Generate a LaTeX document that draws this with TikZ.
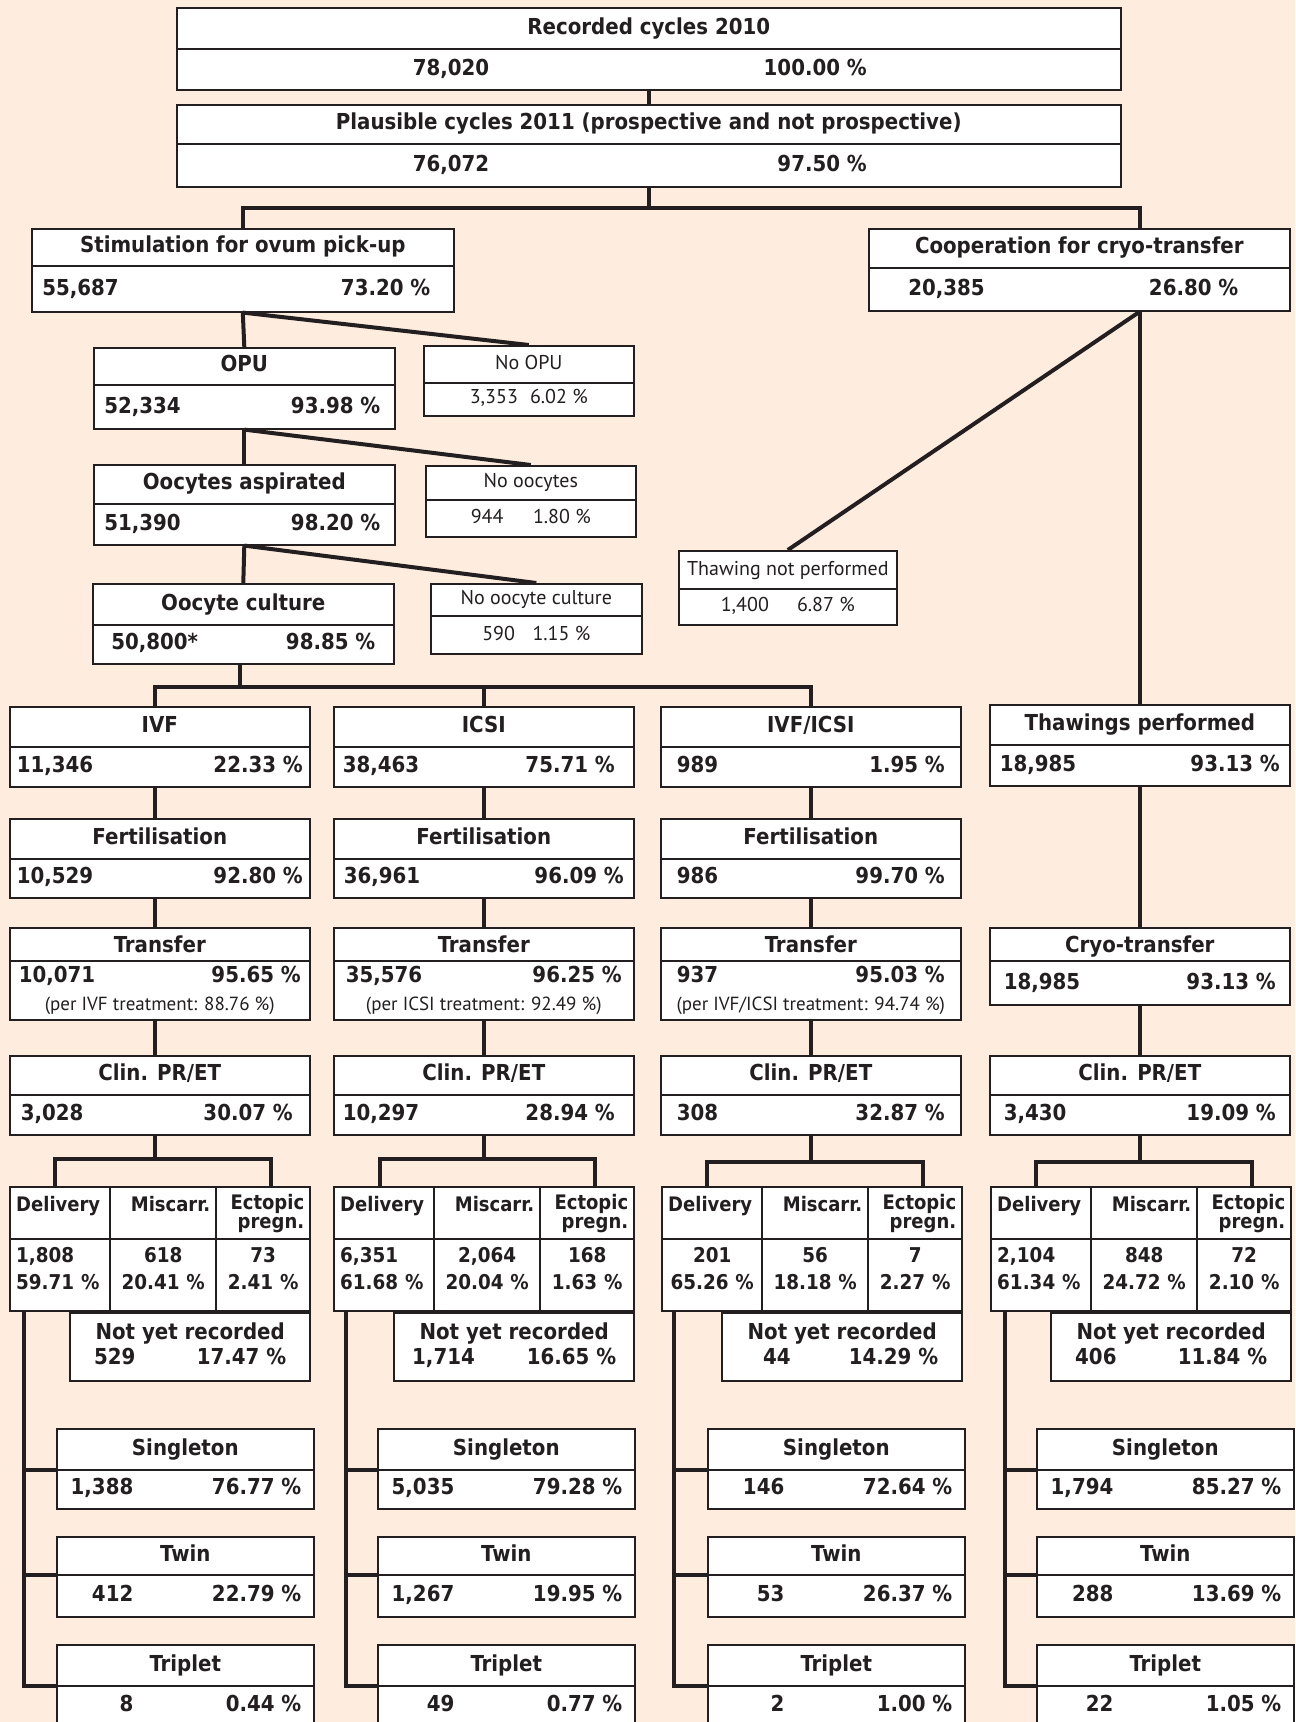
\documentclass[tikz,border=0pt]{standalone}
\usepackage{fontspec}
\setmainfont{DejaVu Sans Condensed}[BoldFont={DejaVu Sans Condensed Bold}]
\newfontfamily\thinf{PT Sans}
\usetikzlibrary{shapes.multipart,matrix}
\definecolor{peach}{RGB}{254,237,223}
\definecolor{ink}{RGB}{35,31,32}
% fixed height for one row of a box
\newcommand{\rowh}[1][20pt]{\rule[-0.335\dimexpr#1\relax]{0pt}{\dimexpr#1-0.8pt\relax}}
% number on the left, percentage on the right
\newcommand{\valrow}[3][138pt]{\makebox[#1]{#2\hfill #3}}
% number set flush right in a narrow slot
\newcommand{\rnum}[1]{\makebox[32pt][r]{#1}}
% empty last line that lifts the text of a cell
\newcommand{\cellpad}[1][-6pt]{\\[#1]\mbox{}}

\begin{document}
\begin{tikzpicture}[x=0.5pt, y=-0.5pt,
    box/.style={rectangle split, rectangle split parts=2, draw=ink, line width=0.8pt,
                fill=white, text=ink, inner xsep=0pt, inner ysep=0pt, anchor=north west,
                font=\bfseries\fontsize{11}{13}\selectfont},
    side/.style={box, font=\thinf\fontsize{10}{12}\selectfont},
    col/.style={box, minimum width=150pt},
    birth/.style={box, minimum width=128.5pt},
    cell/.style={draw=ink, line width=0.8pt, fill=white, text=ink, inner xsep=3pt,
                 inner ysep=0pt, font=\bfseries\fontsize{10}{12}\selectfont},
    hr/.style={align=right},
    outcome/.style={anchor=north west, inner sep=0pt, column sep=-0.8pt, row sep=-0.8pt,
                    nodes={cell},
                    column 1/.style={nodes={text width=44pt, align=left}},
                    column 2/.style={nodes={text width=47pt, align=center}},
                    column 3/.style={nodes={text width=41pt, align=center}},
                    row 1/.style={nodes={minimum height=26pt}},
                    row 2/.style={nodes={minimum height=36pt,
                                         font=\bfseries\fontsize{10.2}{13}\selectfont}}},
    nyr/.style={draw=ink, line width=0.8pt, fill=white, text=ink, align=center,
                minimum width=120pt, minimum height=34pt, inner sep=0pt,
                anchor=north east, font=\bfseries\fontsize{11}{13}\selectfont},
    link/.style={draw=ink, line width=2pt},
  ]
    \useasboundingbox (0,0) rectangle (1295,1722);
    \fill[peach] (0,0) rectangle (1295,1722);
    \clip (0,0) rectangle (1295,1722);

    % Top rows ---------------------------------------------------------------
    \node[box, minimum width=472pt] (rec) at (176,7)
      {\rowh[20.5pt]Recorded cycles 2010\nodepart{two}\rowh[20.5pt]\valrow[227pt]{78,020}{100.00 \%}\hspace*{9pt}};
    \node[box, minimum width=472pt] (plaus) at (176,104)
      {\rowh[19.5pt]Plausible cycles 2011 (prospective and not prospective)\nodepart{two}\rowh[21.5pt]\valrow[227pt]{76,072}{97.50 \%}\hspace*{9pt}};

    % Stimulation branch -----------------------------------------------------
    \node[box, minimum width=211pt] (stim) at (31,228)
      {\rowh[18.5pt]Stimulation for ovum pick-up\nodepart{two}\rowh[23pt]\valrow[194pt]{55,687}{73.20 \%}\hspace*{6.5pt}};
    \node[box, minimum width=150.5pt] (opu) at (93,347)
      {\rowh[18.5pt]OPU\nodepart{two}\rowh[22pt]\valrow{52,334}{93.98 \%}\hspace*{2pt}};
    \node[side, minimum width=105pt] (noopu) at (423,345)
      {\rowh[18.5pt]No OPU\nodepart{two}\rowh[16.5pt]\valrow[59pt]{3,353}{6.02 \%}};
    \node[box, minimum width=150.5pt] (ooc) at (93,464)
      {\rowh[19.5pt]Oocytes aspirated\nodepart{two}\rowh[20.5pt]\valrow{51,390}{98.20 \%}\hspace*{2pt}};
    \node[side, minimum width=105pt] (nooc) at (425,465)
      {\rowh[17pt]No oocytes\nodepart{two}\rowh[18.5pt]\valrow[60pt]{944}{1.80 \%}};
    \node[box, minimum width=150.5pt] (cult) at (92,583)
      {\rowh[20.5pt]Oocyte culture\nodepart{two}\rowh[19.5pt]\valrow[132pt]{50,800*}{98.85 \%}};
    \node[side, minimum width=105.5pt] (nocult) at (430,583)
      {\rowh[16pt]No oocyte culture\nodepart{two}\rowh[19pt]\valrow[54pt]{590}{1.15 \%}};

    % Cryo branch ------------------------------------------------------------
    \node[box, minimum width=210.5pt] (coop) at (868,228)
      {\rowh[19.5pt]Cooperation for cryo-transfer\nodepart{two}\rowh[21.5pt]\valrow[165pt]{20,385}{26.80 \%}\hspace*{6pt}};
    \node[side, minimum width=109pt] (thawno) at (678,550)
      {\rowh[19pt]Thawing not performed\nodepart{two}\rowh[18pt]\valrow[67pt]{1,400}{6.87 \%}};

    % IVF column -------------------------------------------------------------
    \node[col] (ivf) at (9,706) {\rowh IVF\nodepart{two}\rowh\valrow[143pt]{11,346}{22.33 \%}};
    \node[col] (fertivf) at (9,818) {\rowh Fertilisation\nodepart{two}\rowh[19.5pt]\valrow[143pt]{10,529}{92.80 \%}};
    \node[col] (trivf) at (9,927) {\rowh[16.5pt]\raisebox{-1.6pt}{Transfer}\nodepart{two}\parbox[c][28.7pt][c]{146pt}{\centering
      \valrow[141pt]{10,071}{95.65 \%}\\[1pt]{\thinf\mdseries\fontsize{9.5}{11}\selectfont (per IVF treatment: 88.76 \%)}}};
    \node[col] (clinivf) at (9,1055) {\rowh[19.5pt]Clin. PR/ET\nodepart{two}\rowh\valrow[136pt]{3,028}{30.07 \%}\hspace*{3pt}};
    \matrix[outcome] (tivf) at (9,1186) {
      \node (ivfdel) {Delivery\\[-2.5pt]\mbox{}}; & \node[hr] {Miscarr.\\[-2.5pt]\mbox{}}; & \node[hr] (ivfect) {Ectopic\\[-2.5pt]pregn.}; \\
      \node (ivfdn) {1,808\\[0.5pt]59.71 \%\cellpad}; & \node {618\\[0.5pt]20.41 \%\cellpad}; & \node (ivfen) {73\\[0.5pt]2.41 \%\cellpad}; \\
    };
    \node[nyr] (ivfnyr) at (ivfen.south east) {Not yet recorded\\[-0.5pt]\valrow[96pt]{529}{17.47 \%}\hspace*{2pt}\cellpad[-10pt]};
    \node[birth] (sglivf) at (56,1428) {\rowh[20.5pt]Singleton\nodepart{two}\rowh[19.5pt]\valrow[116pt]{\rnum{1,388}}{76.77 \%}};
    \node[birth] (twnivf) at (56,1536) {\rowh[19pt]Twin\nodepart{two}\rowh[21pt]\valrow[116pt]{\rnum{412}}{22.79 \%}};
    \node[birth] (trpivf) at (56,1644) {\rowh[20.5pt]Triplet\nodepart{two}\rowh\valrow[116pt]{\rnum{8}}{0.44 \%}};

    % ICSI column ------------------------------------------------------------
    \node[col] (icsi) at (333,706) {\rowh ICSI\nodepart{two}\rowh\valrow[136pt]{38,463}{75.71 \%}\hspace*{5pt}};
    \node[col] (ferticsi) at (333,818) {\rowh Fertilisation\nodepart{two}\rowh[19.5pt]\valrow[140pt]{36,961}{96.09 \%}};
    \node[col] (tricsi) at (333,927) {\rowh[16.5pt]\raisebox{-1.6pt}{Transfer}\nodepart{two}\parbox[c][28.7pt][c]{146pt}{\centering
      \valrow[138pt]{35,576}{96.25 \%}\hspace*{3pt}\\[1pt]{\thinf\mdseries\fontsize{9.5}{11}\selectfont (per ICSI treatment: 92.49 \%)}}};
    \node[col] (clinicsi) at (333,1055) {\rowh[19.5pt]Clin. PR/ET\nodepart{two}\rowh\valrow[136pt]{10,297}{28.94 \%}\hspace*{5pt}};
    \matrix[outcome] (ticsi) at (333,1186) {
      \node (icsidel) {Delivery\\[-2.5pt]\mbox{}}; & \node[hr] {Miscarr.\\[-2.5pt]\mbox{}}; & \node[hr] (icsiect) {Ectopic\\[-2.5pt]pregn.}; \\
      \node (icsidn) {6,351\\[0.5pt]61.68 \%\cellpad}; & \node {2,064\\[0.5pt]20.04 \%\cellpad}; & \node (icsien) {168\\[0.5pt]1.63 \%\cellpad}; \\
    };
    \node[nyr] (icsinyr) at (icsien.south east) {Not yet recorded\\[-0.5pt]\valrow[102pt]{1,714}{16.65 \%}\cellpad[-10pt]};
    \node[birth] (sglicsi) at (377,1428) {\rowh[20.5pt]Singleton\nodepart{two}\rowh[19.5pt]\valrow[116pt]{\rnum{5,035}}{79.28 \%}};
    \node[birth] (twnicsi) at (377,1536) {\rowh[19pt]Twin\nodepart{two}\rowh[21pt]\valrow[116pt]{\rnum{1,267}}{19.95 \%}};
    \node[birth] (trpicsi) at (377,1644) {\rowh[20.5pt]Triplet\nodepart{two}\rowh\valrow[116pt]{\rnum{49}}{0.77 \%}};

    % IVF/ICSI column --------------------------------------------------------
    \node[col] (ivfi) at (660,706) {\rowh IVF/ICSI\nodepart{two}\rowh\valrow[134pt]{989}{1.95 \%}};
    \node[col] (fertivfi) at (660,818) {\rowh Fertilisation\nodepart{two}\rowh[19.5pt]\valrow[134pt]{986}{99.70 \%}};
    \node[col] (trivfi) at (660,927) {\rowh[16.5pt]\raisebox{-1.6pt}{Transfer}\nodepart{two}\parbox[c][28.7pt][c]{146pt}{\centering
      \valrow[134pt]{937}{95.03 \%}\\[1pt]{\thinf\mdseries\fontsize{9.5}{11}\selectfont (per IVF/ICSI treatment: 94.74 \%)}}};
    \node[col] (clinivfi) at (660,1055) {\rowh[19.5pt]Clin. PR/ET\nodepart{two}\rowh\valrow[134pt]{308}{32.87 \%}};
    \matrix[outcome] (tivfi) at (661,1186) {
      \node (ivfidel) {Delivery\\[-2.5pt]\mbox{}}; & \node[hr] {Miscarr.\\[-2.5pt]\mbox{}}; & \node[hr] (ivfiect) {Ectopic\\[-2.5pt]pregn.}; \\
      \node[align=center] (ivfidn) {201\\[0.5pt]65.26 \%\cellpad}; & \node {56\\[0.5pt]18.18 \%\cellpad}; & \node (ivfien) {7\\[0.5pt]2.27 \%\cellpad}; \\
    };
    \node[nyr] (ivfinyr) at (ivfien.south east) {Not yet recorded\\[-0.5pt]\valrow[96pt]{\hspace{8.5pt}44}{14.29 \%}\cellpad[-10pt]};
    \node[birth] (sglivfi) at (707,1428) {\rowh[20.5pt]Singleton\nodepart{two}\rowh[19.5pt]\valrow[116pt]{\rnum{146}}{72.64 \%}};
    \node[birth] (twnivfi) at (707,1536) {\rowh[19pt]Twin\nodepart{two}\rowh[21pt]\valrow[116pt]{\rnum{53}}{26.37 \%}};
    \node[birth] (trpivfi) at (707,1644) {\rowh[20.5pt]Triplet\nodepart{two}\rowh\valrow[116pt]{\rnum{2}}{1.00 \%}};

    % Cryo column ------------------------------------------------------------
    \node[col] (thaw) at (989,704) {\rowh Thawings performed\nodepart{two}\rowh[20.5pt]\valrow[140pt]{18,985}{93.13 \%}};
    \node[col] (cryo) at (989,927) {\rowh[16.5pt]\raisebox{-1.6pt}{Cryo-transfer}\nodepart{two}\rowh[22pt]\valrow[136pt]{18,985}{93.13 \%}};
    \node[col] (clincryo) at (989,1055) {\rowh[19.5pt]Clin. PR/ET\nodepart{two}\rowh\valrow[136pt]{3,430}{19.09 \%}};
    \matrix[outcome] (tcryo) at (990,1186) {
      \node (cryodel) {Delivery\\[-2.5pt]\mbox{}}; & \node[hr] {Miscarr.\\[-2.5pt]\mbox{}}; & \node[hr] (cryoect) {Ectopic\\[-2.5pt]pregn.}; \\
      \node (cryodn) {2,104\\[0.5pt]61.34 \%\cellpad}; & \node {848\\[0.5pt]24.72 \%\cellpad}; & \node (cryoen) {72\\[0.5pt]2.10 \%\cellpad}; \\
    };
    \node[nyr] (cryonyr) at (cryoen.south east) {Not yet recorded\\[-0.5pt]\valrow[96pt]{406}{11.84 \%}\hspace*{2pt}\cellpad[-10pt]};
    \node[birth] (sglcryo) at (1036,1428) {\rowh[20.5pt]Singleton\nodepart{two}\rowh[19.5pt]\valrow[116pt]{\rnum{1,794}}{85.27 \%}};
    \node[birth] (twncryo) at (1036,1536) {\rowh[19pt]Twin\nodepart{two}\rowh[21pt]\valrow[116pt]{\rnum{288}}{13.69 \%}};
    \node[birth] (trpcryo) at (1036,1644) {\rowh[20.5pt]Triplet\nodepart{two}\rowh\valrow[116pt]{\rnum{22}}{1.05 \%}};

    % Connectors: top and first split ----------------------------------------
    \draw[link] (rec.south) -- (plaus.north);
    \draw[link] (plaus.south) -- ++(0,20) coordinate (fork);
    \draw[link] (stim.north) |- (fork) -| (thaw.north |- coop.north);
    \draw[link] (stim.south) -- (opu.north);
    \draw[link] (stim.south) -- (noopu.north);
    \draw[link] (opu.south) -- (ooc.north);
    \draw[link] (opu.south) -- (nooc.north);
    \draw[link] (ooc.south) -- (cult.north);
    \draw[link] (ooc.south) -- (nocult.north);
    \draw[link] ([xshift=-1.5pt]cult.south) -- ++(0,22) coordinate (bcult);
    \draw[link] ([xshift=-2.5pt]ivf.north) |- (bcult) -| (ivfi.north);
    \draw[link] (bcult -| icsi.north) -- (icsi.north);
    \draw[link] (thaw.north |- coop.south) -- (thaw.north);
    \draw[link] (thaw.north |- coop.south) -- (thawno.north);

    % Connectors: IVF column -------------------------------------------------
    \draw[link] ([xshift=-2.5pt]ivf.south) -- ([xshift=-2.5pt]fertivf.north);
    \draw[link] ([xshift=-2.5pt]fertivf.south) -- ([xshift=-2.5pt]trivf.north);
    \draw[link] ([xshift=-2.5pt]trivf.south) -- ([xshift=-2.5pt]clinivf.north);
    \draw[link] ([xshift=-2.5pt]clinivf.south) -- ++(0,23) coordinate (bivf);
    \draw[link] ([xshift=-2.5pt]ivfdel.north) |- (bivf) -| ([xshift=4pt]ivfect.north);
    \coordinate (kivf) at ([xshift=7.5pt]ivfdn.south west);
    \draw[link] (kivf) |- (trpivf.text split west);
    \draw[link] (kivf |- sglivf.text split west) -- (sglivf.text split west);
    \draw[link] (kivf |- twnivf.text split west) -- (twnivf.text split west);

    % Connectors: ICSI column ------------------------------------------------
    \draw[link] (icsi.south) -- (ferticsi.north);
    \draw[link] (ferticsi.south) -- (tricsi.north);
    \draw[link] (tricsi.south) -- (clinicsi.north);
    \draw[link] (clinicsi.south) -- ++(0,23) coordinate (bicsi);
    \draw[link] ([xshift=-2pt]icsidel.north) |- (bicsi) -| ([xshift=4pt]icsiect.north);
    \coordinate (kicsi) at ([xshift=6.5pt]icsidn.south west);
    \draw[link] (kicsi) |- (trpicsi.text split west);
    \draw[link] (kicsi |- sglicsi.text split west) -- (sglicsi.text split west);
    \draw[link] (kicsi |- twnicsi.text split west) -- (twnicsi.text split west);

    % Connectors: IVF/ICSI column --------------------------------------------
    \draw[link] (ivfi.south) -- (fertivfi.north);
    \draw[link] (fertivfi.south) -- (trivfi.north);
    \draw[link] (trivfi.south) -- (clinivfi.north);
    \draw[link] (clinivfi.south) -- ++(0,26) coordinate (bivfi);
    \draw[link] ([xshift=-2.5pt]ivfidel.north) |- (bivfi) -| ([xshift=4pt]ivfiect.north);
    \coordinate (kivfi) at ([xshift=6.5pt]ivfidn.south west);
    \draw[link] (kivfi) |- (trpivfi.text split west);
    \draw[link] (kivfi |- sglivfi.text split west) -- (sglivfi.text split west);
    \draw[link] (kivfi |- twnivfi.text split west) -- (twnivfi.text split west);

    % Connectors: cryo column ------------------------------------------------
    \draw[link] (thaw.south) -- (cryo.north);
    \draw[link] (cryo.south) -- (clincryo.north);
    \draw[link] (clincryo.south) -- ++(0,26) coordinate (bcryo);
    \draw[link] ([xshift=-2.5pt]cryodel.north) |- (bcryo) -| ([xshift=4pt]cryoect.north);
    \coordinate (kcryo) at ([xshift=7.5pt]cryodn.south west);
    \draw[link] (kcryo) |- (trpcryo.text split west);
    \draw[link] (kcryo |- sglcryo.text split west) -- (sglcryo.text split west);
    \draw[link] (kcryo |- twncryo.text split west) -- (twncryo.text split west);
  \end{tikzpicture}
\end{document}
